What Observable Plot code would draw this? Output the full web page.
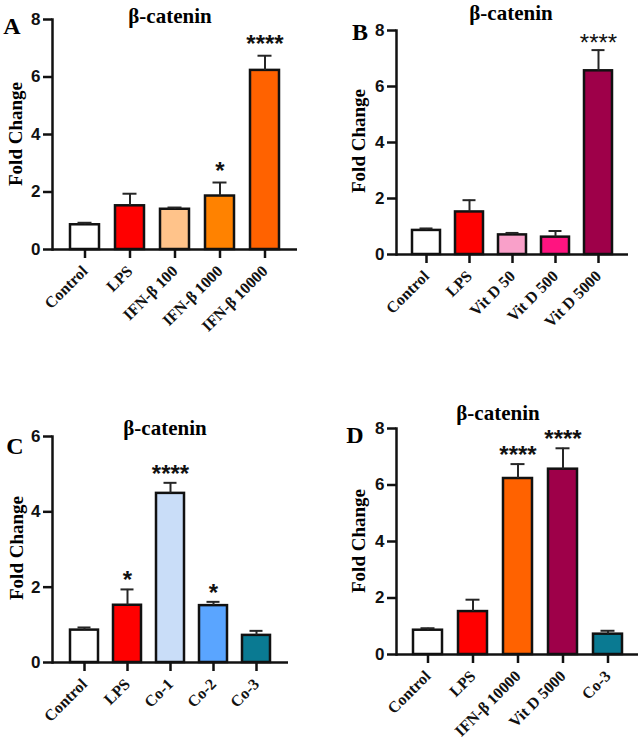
<!DOCTYPE html>
<html>
<head>
<meta charset="utf-8">
<script src="https://cdn.jsdelivr.net/npm/d3@7"></script>
<script src="https://cdn.jsdelivr.net/npm/@observablehq/plot@0.6"></script>
<style>
  body { margin: 0; background: #fff; }
  #page { position: relative; width: 642px; height: 740px; background: #fff; overflow: hidden; }
  .panel { position: absolute; }
  .lbl { position: absolute; transform: translate(-50%, -50%); white-space: nowrap; line-height: 1;
         font-weight: bold; color: #000; }
  .ylab { transform: translate(-50%, -50%) rotate(-90deg); }
</style>
</head>
<body>
<div id="page"></div>
<script>
// Fold change of β-catenin expression per treatment group (mean and upper SEM)
const groupsA = ["Control", "LPS", "IFN-β 100", "IFN-β 1000", "IFN-β 10000"];
const meansA  = [0.86, 1.52, 1.40, 1.86, 6.23];
const errsA   = [0.07, 0.42, 0.06, 0.47, 0.51];
const starsA  = ["", "", "", "*", "****"];
const colorsA = ["#ffffff", "#ff0000", "#ffc38a", "#ff8200", "#ff6200"];

const groupsB = ["Control", "LPS", "Vit D 50", "Vit D 500", "Vit D 5000"];
const meansB  = [0.86, 1.52, 0.70, 0.62, 6.56];
const errsB   = [0.07, 0.42, 0.07, 0.22, 0.74];
const starsB  = ["", "", "", "", "****"];
const colorsB = ["#ffffff", "#ff0000", "#f9a0c9", "#ff1480", "#9e0049"];

const groupsC = ["Control", "LPS", "Co-1", "Co-2", "Co-3"];
const meansC  = [0.86, 1.52, 4.49, 1.51, 0.72];
const errsC   = [0.07, 0.42, 0.28, 0.10, 0.12];
const starsC  = ["", "*", "****", "*", ""];
const colorsC = ["#ffffff", "#ff0000", "#c9ddf8", "#5aa5ff", "#0a7a92"];

const groupsD = ["Control", "LPS", "IFN-β 10000", "Vit D 5000", "Co-3"];
const meansD  = [0.86, 1.52, 6.23, 6.56, 0.72];
const errsD   = [0.07, 0.42, 0.51, 0.74, 0.12];
const starsD  = ["", "", "****", "****", ""];
const colorsD = ["#ffffff", "#ff0000", "#ff6200", "#9e0049", "#0a7a92"];

const ticks8 = [0, 2, 4, 6, 8];
const ticks6 = [0, 2, 4, 6];

const serif = "Liberation Serif";
const sans = "Liberation Sans";

function barPanel({groups, means, errs, stars, colors, yMax, yTicks, margins, paddingInner, paddingOuter,
                   starWeight = "bold", starDy = -3}) {
  const rows = groups.map((g, i) => ({
    group: g, mean: means[i], top: means[i] + errs[i], star: stars[i], color: colors[i]
  }));
  return Plot.plot({
    width: 321,
    height: 370,
    ...margins,
    style: {background: "transparent", overflow: "visible", color: "#000"},
    x: {domain: groups, paddingInner, paddingOuter},
    y: {domain: [0, yMax]},
    color: {type: "identity"},
    marks: [
      Plot.barY(rows, {x: "group", y: "mean", fill: "color", stroke: "#111", strokeWidth: 2.5}),
      Plot.ruleX(rows, {x: "group", y1: "mean", y2: "top", stroke: "#262626", strokeWidth: 2}),
      Plot.tickY(rows, {x: "group", y: "top", stroke: "#262626", strokeWidth: 2, insetLeft: 7.5, insetRight: 7.5}),
      Plot.text(rows, {x: "group", y: "top", text: "star", dy: starDy, lineAnchor: "bottom",
        fontSize: 24, fontWeight: starWeight, fontFamily: sans, fill: "#111"}),
      Plot.ruleY([0], {stroke: "#111", strokeWidth: 2.5}),
      Plot.frame({anchor: "left", stroke: "#111", strokeWidth: 2.5}),
      Plot.axisY({ticks: yTicks, tickFormat: d => d, tickSize: 9, tickPadding: 3, strokeWidth: 2.5,
        stroke: "#111", fill: "#111", fontSize: 17, fontWeight: "bold", fontFamily: sans, label: null}),
      Plot.axisX({tickRotate: -45, tickSize: 9, tickPadding: 10, strokeWidth: 2.5, stroke: "#111", fill: "#111",
        fontSize: 16, fontWeight: "bold", fontFamily: serif, label: null})
    ]
  });
}

const page = document.getElementById("page");

function place(node, left, top) {
  const wrap = document.createElement("div");
  wrap.className = "panel";
  wrap.style.left = left + "px";
  wrap.style.top = top + "px";
  wrap.appendChild(node);
  page.appendChild(wrap);
}

function label(text, cls, size, x, y) {
  const el = document.createElement("div");
  el.className = "lbl " + cls;
  el.textContent = text;
  el.style.fontFamily = serif;
  el.style.fontSize = size + "px";
  el.style.left = x + "px";
  el.style.top = y + "px";
  page.appendChild(el);
}

place(barPanel({groups: groupsA, means: meansA, errs: errsA, stars: starsA, colors: colorsA,
  yMax: 8, yTicks: ticks8, paddingInner: 0.36, paddingOuter: 0.36, starDy: -4,
  margins: {marginLeft: 52, marginRight: 24, marginTop: 19, marginBottom: 121}}), 0, 0);

place(barPanel({groups: groupsB, means: meansB, errs: errsB, stars: starsB, colors: colorsB,
  yMax: 8, yTicks: ticks8, paddingInner: 0.356, paddingOuter: 0.32, starWeight: "normal", starDy: 1,
  margins: {marginLeft: 75, marginRight: 14, marginTop: 30, marginBottom: 116}}), 321, 0);

place(barPanel({groups: groupsC, means: meansC, errs: errsC, stars: starsC, colors: colorsC,
  yMax: 6, yTicks: ticks6, paddingInner: 0.36, paddingOuter: 0.375, starDy: -1,
  margins: {marginLeft: 52, marginRight: 33, marginTop: 66, marginBottom: 78}}), 0, 370);

place(barPanel({groups: groupsD, means: meansD, errs: errsD, stars: starsD, colors: colorsD,
  yMax: 8, yTicks: ticks8, paddingInner: 0.36, paddingOuter: 0.32, starDy: -1,
  margins: {marginLeft: 75, marginRight: 4, marginTop: 58, marginBottom: 86}}), 321, 370);

// Panel titles, letters and y-axis titles
label("β-catenin", "title", 21, 170, 16);
label("β-catenin", "title", 21, 511, 13);
label("β-catenin", "title", 21, 165, 428);
label("β-catenin", "title", 21, 498, 413);

label("A", "letter", 24, 12, 26);
label("B", "letter", 24, 360, 32);
label("C", "letter", 24, 15, 446);
label("D", "letter", 24, 355, 435);

label("Fold Change", "ylab", 19, 15, 134);
label("Fold Change", "ylab", 19, 358, 141);
label("Fold Change", "ylab", 19, 16, 548);
label("Fold Change", "ylab", 19, 358, 541);
</script>
</body>
</html>
